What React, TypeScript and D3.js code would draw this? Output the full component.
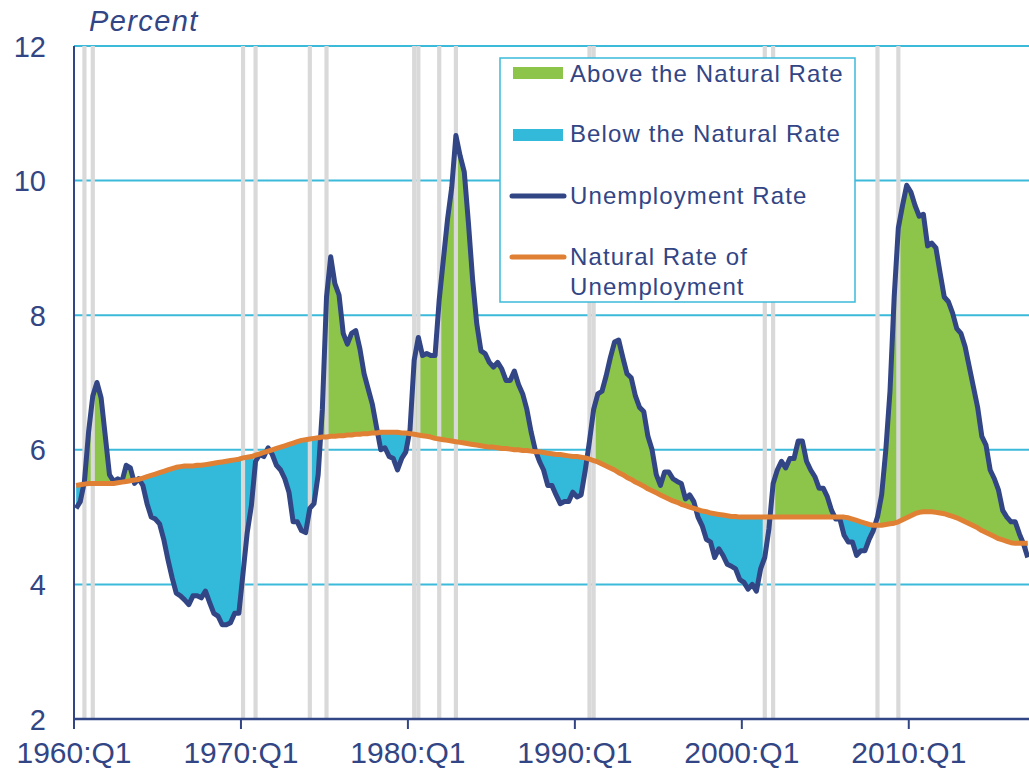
import React, { useEffect, useRef } from 'react';
import * as d3 from 'd3';

// quarterly, 1960:Q1 .. 2017:Q1
const unemploymentRate = [
  5.13, 5.23, 5.53, 6.27, 6.8, 7.0, 6.77, 6.2, 5.63, 5.53, 5.57, 5.53,
  5.77, 5.73, 5.5, 5.57, 5.47, 5.2, 5.0, 4.97, 4.9, 4.67, 4.37, 4.1,
  3.87, 3.83, 3.77, 3.7, 3.83, 3.83, 3.8, 3.9, 3.73, 3.57, 3.53, 3.4,
  3.4, 3.43, 3.57, 3.57, 4.17, 4.77, 5.17, 5.83, 5.93, 5.9, 6.03, 5.93,
  5.77, 5.7, 5.57, 5.37, 4.93, 4.93, 4.8, 4.77, 5.13, 5.2, 5.63, 6.6,
  8.27, 8.87, 8.47, 8.3, 7.73, 7.57, 7.73, 7.77, 7.5, 7.13, 6.9, 6.67,
  6.33, 6.0, 6.03, 5.9, 5.87, 5.7, 5.87, 5.97, 6.3, 7.33, 7.67, 7.4,
  7.43, 7.4, 7.4, 8.23, 8.83, 9.43, 9.9, 10.67, 10.37, 10.13, 9.37, 8.53,
  7.87, 7.47, 7.43, 7.3, 7.23, 7.3, 7.2, 7.03, 7.03, 7.17, 6.97, 6.83,
  6.6, 6.27, 6.0, 5.83, 5.7, 5.47, 5.47, 5.33, 5.2, 5.23, 5.23, 5.37,
  5.3, 5.33, 5.7, 6.13, 6.6, 6.83, 6.87, 7.1, 7.37, 7.6, 7.63, 7.37,
  7.13, 7.07, 6.8, 6.63, 6.57, 6.2, 6.0, 5.63, 5.47, 5.67, 5.67, 5.57,
  5.53, 5.5, 5.27, 5.33, 5.23, 5.0, 4.87, 4.67, 4.63, 4.4, 4.53, 4.43,
  4.3, 4.27, 4.23, 4.07, 4.03, 3.93, 4.0, 3.9, 4.23, 4.4, 4.83, 5.5,
  5.7, 5.83, 5.73, 5.87, 5.87, 6.13, 6.13, 5.83, 5.7, 5.6, 5.43, 5.43,
  5.3, 5.1, 4.97, 4.97, 4.73, 4.63, 4.63, 4.43, 4.5, 4.5, 4.67, 4.8,
  5.0, 5.33, 6.0, 6.87, 8.27, 9.3, 9.63, 9.93, 9.83, 9.63, 9.47, 9.5,
  9.03, 9.07, 9.0, 8.63, 8.27, 8.2, 8.03, 7.8, 7.73, 7.53, 7.23, 6.93,
  6.63, 6.2, 6.07, 5.7, 5.57, 5.4, 5.1, 5.0, 4.93, 4.93, 4.75, 4.6,
  4.4,
];

const naturalRate = [
  5.47, 5.48, 5.49, 5.5, 5.5, 5.5, 5.5, 5.5, 5.5, 5.5, 5.51, 5.52,
  5.53, 5.54, 5.55, 5.56, 5.58, 5.6, 5.62, 5.64, 5.66, 5.68, 5.7, 5.72,
  5.74, 5.75, 5.76, 5.76, 5.76, 5.77, 5.77, 5.78, 5.79, 5.8, 5.81, 5.82,
  5.83, 5.84, 5.85, 5.86, 5.88, 5.89, 5.9, 5.92, 5.94, 5.96, 5.98, 6.0,
  6.02, 6.04, 6.06, 6.08, 6.1, 6.12, 6.14, 6.15, 6.16, 6.17, 6.18, 6.19,
  6.19, 6.2, 6.2, 6.21, 6.21, 6.22, 6.22, 6.23, 6.23, 6.24, 6.24, 6.25,
  6.25, 6.26, 6.26, 6.26, 6.26, 6.26, 6.25, 6.25, 6.24, 6.23, 6.22, 6.21,
  6.2, 6.19, 6.17, 6.16, 6.15, 6.14, 6.13, 6.12, 6.11, 6.1, 6.09, 6.08,
  6.07, 6.06, 6.05, 6.04, 6.04, 6.03, 6.02, 6.02, 6.01, 6.0, 6.0, 5.99,
  5.99, 5.98, 5.97, 5.97, 5.96, 5.95, 5.94, 5.93, 5.93, 5.92, 5.91, 5.9,
  5.9, 5.89, 5.88, 5.86, 5.84, 5.82, 5.79, 5.76, 5.73, 5.7, 5.66, 5.63,
  5.59, 5.56, 5.52, 5.49, 5.46, 5.42, 5.39, 5.36, 5.33, 5.3, 5.27, 5.24,
  5.22, 5.19, 5.17, 5.15, 5.13, 5.11, 5.09, 5.08, 5.06, 5.05, 5.04, 5.03,
  5.02, 5.01, 5.01, 5.0, 5.0, 5.0, 5.0, 5.0, 5.0, 5.0, 5.0, 5.0,
  5.0, 5.0, 5.0, 5.0, 5.0, 5.0, 5.0, 5.0, 5.0, 5.0, 5.0, 5.0,
  5.0, 5.0, 5.0, 5.0, 5.0, 4.99, 4.97, 4.95, 4.93, 4.91, 4.89, 4.88,
  4.88, 4.88, 4.89, 4.9, 4.91, 4.93, 4.96, 4.99, 5.02, 5.05, 5.07, 5.08,
  5.08, 5.08, 5.07, 5.06, 5.05, 5.03, 5.01, 4.99, 4.96, 4.93, 4.9, 4.87,
  4.84, 4.8, 4.77, 4.74, 4.71, 4.68, 4.66, 4.64, 4.62, 4.61, 4.61, 4.61,
  4.61,
];

// quarters marked with gray recession bars
const recessionQuarters = [
  '1960:Q3', '1961:Q1', '1970:Q1', '1970:Q4', '1974:Q1', '1975:Q1',
  '1980:Q2', '1980:Q3', '1981:Q4', '1982:Q4', '1990:Q4', '1991:Q1',
  '2001:Q2', '2001:Q4', '2008:Q1', '2009:Q2',
];

const xTickLabels = ['1960:Q1', '1970:Q1', '1980:Q1', '1990:Q1', '2000:Q1', '2010:Q1'];
const yTicks = [2, 4, 6, 8, 10, 12];
const gridTicks = [4, 6, 8, 10, 12];

const fillLabels = ['Above the Natural Rate', 'Below the Natural Rate'];
const lineLabels = [['Unemployment Rate'], ['Natural Rate of', 'Unemployment']];

const NAVY = '#324584';
const ORANGE = '#e08034';
const GREEN = '#8dc54b';
const CYAN = '#33b9da';
const GRID = '#3bbad9';
const GRAY = '#d9d9d9';
const FONT = '"Liberation Sans", Arial, Helvetica, sans-serif';

const quarterIndex = (label: string) => {
  const [yr, q] = label.split(':Q');
  return (Number(yr) - 1960) * 4 + Number(q) - 1;
};

export default function App() {
  const svgRef = useRef<SVGSVGElement | null>(null);

  const width = 1029;
  const height = 771;
  const margin = { left: 74, top: 46, bottom: 719 };

  useEffect(() => {
    const svg = d3.select(svgRef.current);
    svg.selectAll('*').remove();

    const x = d3.scaleLinear().domain([0, 230]).range([margin.left, 1034]);
    const y = d3.scaleLinear().domain([2, 12]).range([margin.bottom, margin.top]);
    const px = (i: number) => x(i + 0.5);
    const idx = d3.range(unemploymentRate.length);

    const defs = svg.append('defs');
    defs
      .append('clipPath')
      .attr('id', 'above')
      .append('path')
      .attr('d', d3.area<number>().x(px).y0(0).y1((i) => y(naturalRate[i]))(idx));
    defs
      .append('clipPath')
      .attr('id', 'below')
      .append('path')
      .attr('d', d3.area<number>().x(px).y0(height).y1((i) => y(naturalRate[i]))(idx));

    // gridlines
    svg
      .append('g')
      .selectAll('line')
      .data(gridTicks)
      .enter()
      .append('line')
      .attr('x1', margin.left)
      .attr('x2', width)
      .attr('y1', (d) => y(d))
      .attr('y2', (d) => y(d))
      .style('stroke', GRID)
      .style('stroke-width', 2);

    // gap areas
    const gap = d3
      .area<number>()
      .x(px)
      .y0((i) => y(naturalRate[i]))
      .y1((i) => y(unemploymentRate[i]));
    svg.append('path').attr('d', gap(idx)).attr('clip-path', 'url(#above)').style('fill', GREEN);
    svg.append('path').attr('d', gap(idx)).attr('clip-path', 'url(#below)').style('fill', CYAN);

    // recession bars
    svg
      .append('g')
      .selectAll('rect')
      .data(recessionQuarters.map(quarterIndex))
      .enter()
      .append('rect')
      .attr('x', (q) => x(q))
      .attr('width', (q) => x(q + 1) - x(q))
      .attr('y', y(12))
      .attr('height', y(2) - y(12))
      .style('fill', GRAY);

    // series lines
    svg
      .append('path')
      .attr('d', d3.line<number>().x(px).y((i) => y(unemploymentRate[i]))(idx))
      .style('fill', 'none')
      .style('stroke', NAVY)
      .style('stroke-width', 5)
      .style('stroke-linejoin', 'round');
    svg
      .append('path')
      .attr('d', d3.line<number>().x(px).y((i) => y(naturalRate[i]))(idx))
      .style('fill', 'none')
      .style('stroke', ORANGE)
      .style('stroke-width', 5)
      .style('stroke-linejoin', 'round');

    // axes
    svg
      .append('line')
      .attr('x1', margin.left)
      .attr('x2', margin.left)
      .attr('y1', y(12))
      .attr('y2', y(2))
      .style('stroke', NAVY)
      .style('stroke-width', 2);
    svg
      .append('line')
      .attr('x1', margin.left)
      .attr('x2', width)
      .attr('y1', y(2))
      .attr('y2', y(2))
      .style('stroke', NAVY)
      .style('stroke-width', 2.5);

    const xt = svg
      .append('g')
      .selectAll('g')
      .data(xTickLabels)
      .enter()
      .append('g')
      .attr('transform', (d) => `translate(${x(quarterIndex(d))},${y(2)})`);
    xt.append('line').attr('y2', 10).style('stroke', NAVY).style('stroke-width', 2);
    xt.append('text')
      .attr('y', 44)
      .attr('text-anchor', 'middle')
      .style('font-family', FONT)
      .style('font-size', '30px')
      .style('fill', NAVY)
      .text((d) => d);

    svg
      .append('g')
      .selectAll('text')
      .data(yTicks)
      .enter()
      .append('text')
      .attr('x', 46)
      .attr('y', (d) => y(d) + 10.5)
      .attr('text-anchor', 'end')
      .style('font-family', FONT)
      .style('font-size', '29px')
      .style('fill', NAVY)
      .text((d) => d);

    svg
      .append('text')
      .attr('x', 89)
      .attr('y', 31)
      .style('font-family', FONT)
      .style('font-size', '29px')
      .style('font-style', 'italic')
      .style('letter-spacing', '1.4px')
      .style('fill', NAVY)
      .text('Percent');

    // legend
    const lg = svg.append('g').attr('transform', 'translate(500,58)');
    lg.append('rect')
      .attr('width', 355)
      .attr('height', 244)
      .style('fill', '#fff')
      .style('stroke', GRID)
      .style('stroke-width', 1.5);

    const legendText = (sel: any) =>
      sel
        .style('font-family', FONT)
        .style('font-size', '24px')
        .style('letter-spacing', '1.1px')
        .style('fill', NAVY);

    fillLabels.forEach((label, i) => {
      lg.append('rect')
        .attr('x', 13)
        .attr('y', 9 + i * 62)
        .attr('width', 50)
        .attr('height', 12)
        .style('fill', i === 0 ? GREEN : CYAN);
      legendText(lg.append('text').attr('x', 70).attr('y', 24 + i * 60)).text(label);
    });

    lineLabels.forEach((lines, i) => {
      const cy = 138 + i * 61;
      lg.append('line')
        .attr('x1', 12)
        .attr('x2', 64)
        .attr('y1', cy)
        .attr('y2', cy)
        .style('stroke', i === 0 ? NAVY : ORANGE)
        .style('stroke-width', 5)
        .style('stroke-linecap', 'round');
      lines.forEach((t, j) => {
        legendText(lg.append('text').attr('x', 70).attr('y', 146 + i * 61 + j * 30)).text(t);
      });
    });
  }, []);

  return (
    <svg
      ref={svgRef}
      width={width}
      height={height}
      style={{ position: 'absolute', left: 0, top: 0, background: '#fff' }}
    />
  );
}
